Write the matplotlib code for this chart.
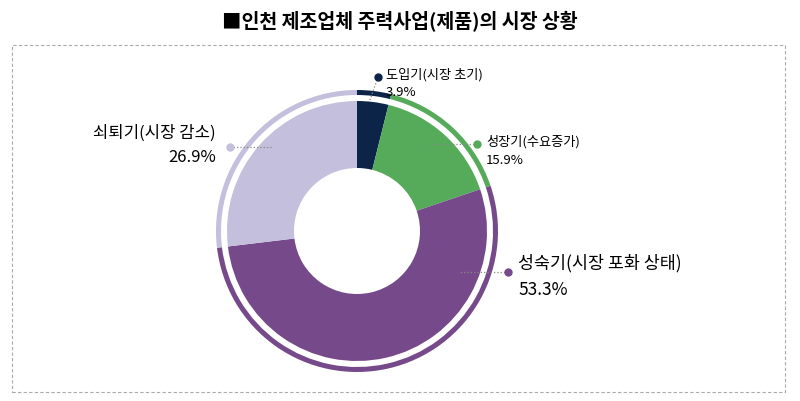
import matplotlib.pyplot as plt
from matplotlib.patches import Rectangle

plt.rcParams['font.family'] = ['Noto Sans CJK JP', 'Noto Sans CJK KR', 'Noto Sans CJK SC', 'DejaVu Sans']

# data
stages = ['도입기(시장 초기)', '성장기(수요증가)', '성숙기(시장 포화 상태)', '쇠퇴기(시장 감소)']
shares = [3.9, 15.9, 53.3, 26.9]
colors = ['#0d2449', '#55ab5a', '#764a8a', '#c3bfdc']
title = '■인천 제조업체 주력사업(제품)의 시장 상황'

W, H = 800, 401
fig = plt.figure(figsize=(8, 4.01), dpi=100)
ax = fig.add_axes([0, 0, 1, 1])

def Y(y):
    return H - y

fig.text(0.5, Y(22) / H, title, ha='center', va='center', fontsize=14, fontweight='bold')

cx, cy = 357, Y(231)
ax.pie(shares, colors=colors, radius=130, center=(cx, cy), startangle=90, counterclock=False,
       wedgeprops=dict(width=67, linewidth=0), frame=True)
ax.pie(shares, colors=colors, radius=141, center=(cx, cy), startangle=90, counterclock=False,
       wedgeprops=dict(width=5, linewidth=0), frame=True)
ax.set_xlim(0, W)
ax.set_ylim(0, H)
ax.set_aspect('equal')
ax.axis('off')

# dashed frame
ax.add_patch(Rectangle((12, Y(392)), 773, 347, fill=False, ec='#aaaaaa', lw=0.8, ls=(0, (3, 2))))

# label positions (pixels): text x, name y, pct y, dot, leader end, font size, align
layout = [
    (386, 75, 92, (378, 77), (370, 100), 9.5, 'left'),
    (486, 142, 160, (477, 144), (430, 144), 9.5, 'left'),
    (518, 263, 290, (508, 272), (460, 272), 12.5, 'left'),
    (216, 133, 158, (230, 147), (272, 147), 12, 'right'),
]
for name, val, c, (tx, ny, py, dot, end, fs, ha) in zip(stages, shares, colors, layout):
    ax.plot([dot[0], end[0]], [Y(dot[1]), Y(end[1])], ls=':', color='#888888', lw=0.9, zorder=5)
    ax.plot(dot[0], Y(dot[1]), 'o', color=c, ms=5, zorder=6)
    ax.text(tx, Y(ny), name, ha=ha, va='center', fontsize=fs)
    ax.text(tx, Y(py), f'{val}%', ha=ha, va='center', fontsize=fs)

fig.savefig('out.png', dpi=100, facecolor='white')
